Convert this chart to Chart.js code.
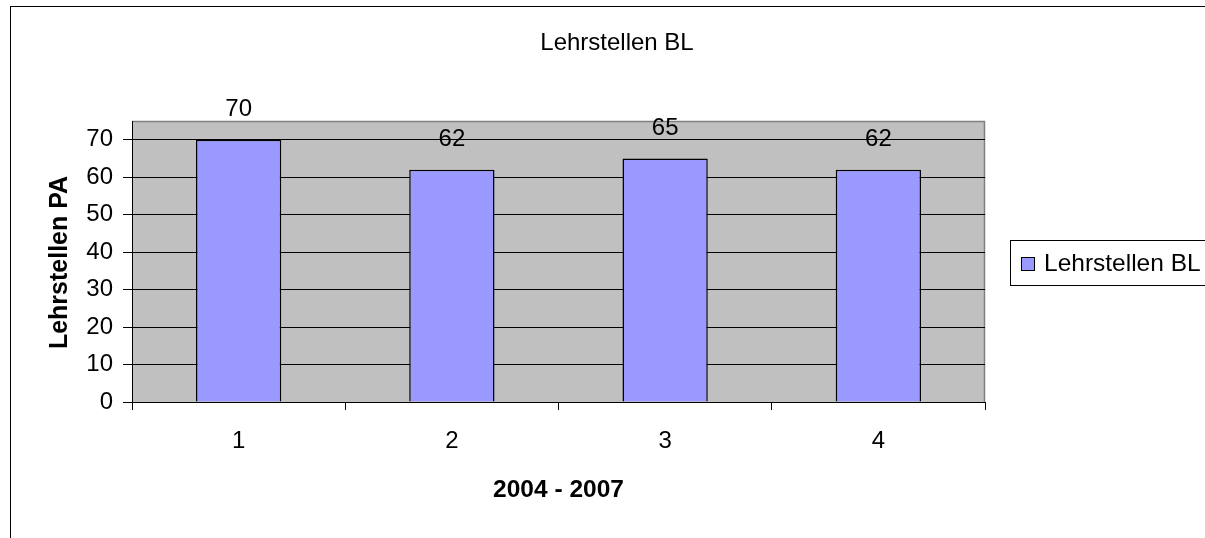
<!DOCTYPE html>
<html><head><meta charset="utf-8">
<script src="https://cdn.jsdelivr.net/npm/chart.js@4/dist/chart.umd.min.js"></script>
<style>html,body{margin:0;padding:0;background:#fff;overflow:hidden}canvas{display:block}</style>
</head><body>
<canvas id="c" width="1205" height="538"></canvas>
<script>
// ---- data ----
const chartTitle = 'Lehrstellen BL';
const categories = ['1', '2', '3', '4'];
const seriesName = 'Lehrstellen BL';
const seriesValues = [70, 62, 65, 62];
const yTickValues = [0, 10, 20, 30, 40, 50, 60, 70];
const xAxisTitle = '2004 - 2007';
const yAxisTitle = 'Lehrstellen PA';

const FONT = '"Liberation Sans", Arial, sans-serif';
const BAR_COLOR = '#9999FF';

const decor = {
  id: 'decor',
  beforeDraw(chart) {
    const ctx = chart.ctx, a = chart.chartArea;
    ctx.save();
    ctx.fillStyle = '#fff';
    ctx.fillRect(0, 0, chart.width, chart.height);
    // outer chart border
    ctx.strokeStyle = '#000';
    ctx.lineWidth = 1;
    ctx.strokeRect(10.5, 6.5, 1400, 800);
    // plot area
    ctx.fillStyle = '#C0C0C0';
    ctx.fillRect(a.left, a.top, a.right - a.left, a.bottom - a.top);
    ctx.strokeStyle = '#808080';
    ctx.lineWidth = 1.5;
    ctx.beginPath();
    ctx.moveTo(a.left, a.top + 0.5);
    ctx.lineTo(a.right - 0.5, a.top + 0.5);
    ctx.lineTo(a.right - 0.5, a.bottom);
    ctx.stroke();
    ctx.restore();
  },
  afterDraw(chart) {
    const ctx = chart.ctx, a = chart.chartArea;
    ctx.save();
    ctx.fillStyle = '#000';
    // title
    ctx.font = '24px ' + FONT;
    ctx.textAlign = 'center';
    ctx.textBaseline = 'alphabetic';
    ctx.fillText(chartTitle, 617, 50);
    // data labels
    const meta = chart.getDatasetMeta(0);
    ctx.textBaseline = 'middle';
    meta.data.forEach((bar, i) => {
      ctx.fillText(String(seriesValues[i]), bar.x, bar.y - 30);
    });
    // x axis title
    ctx.font = 'bold 24.5px ' + FONT;
    ctx.textBaseline = 'alphabetic';
    ctx.fillText(xAxisTitle, (a.left + a.right) / 2, 497);
    // y axis title
    ctx.font = 'bold 25px ' + FONT;
    ctx.save();
    ctx.translate(66.5, (a.top + a.bottom) / 2 + 1);
    ctx.rotate(-Math.PI / 2);
    ctx.fillText(yAxisTitle, 0, 0);
    ctx.restore();
    // legend
    ctx.fillStyle = '#fff';
    ctx.fillRect(1010, 240, 300, 45);
    ctx.strokeStyle = '#000';
    ctx.lineWidth = 1;
    ctx.strokeRect(1010.5, 240.5, 300, 45);
    ctx.fillStyle = BAR_COLOR;
    ctx.fillRect(1021, 257, 13, 13);
    ctx.strokeRect(1021.5, 257.5, 13, 13);
    ctx.fillStyle = '#000';
    ctx.font = '24.5px ' + FONT;
    ctx.textAlign = 'left';
    ctx.textBaseline = 'middle';
    ctx.fillText(seriesName, 1044, 264);
    ctx.restore();
  }
};

new Chart(document.getElementById('c'), {
  type: 'bar',
  data: {
    labels: categories,
    datasets: [{
      label: seriesName,
      data: seriesValues,
      backgroundColor: BAR_COLOR,
      borderColor: '#000',
      borderWidth: 1.5,
      categoryPercentage: 0.4,
      barPercentage: 1
    }]
  },
  options: {
    responsive: false,
    animation: false,
    devicePixelRatio: 1,
    layout: { padding: { left: 10, top: 121, right: 220, bottom: 0 } },
    plugins: { legend: { display: false }, title: { display: false }, tooltip: { enabled: false } },
    scales: {
      x: {
        type: 'category',
        offset: true,
        grid: { offset: true, drawOnChartArea: false, drawTicks: true, tickLength: 8, color: '#000', lineWidth: 1 },
        border: { display: true, color: '#000', width: 1 },
        ticks: { color: '#000', font: { family: FONT, size: 24 }, padding: 17, maxRotation: 0 },
        afterFit(s) { s.height = 136; }
      },
      y: {
        min: 0, max: 75,
        afterBuildTicks(s) { s.ticks = yTickValues.map(v => ({ value: v })); },
        grid: { color: '#000', lineWidth: 1, drawTicks: true, tickLength: 9 },
        border: { display: true, color: '#000', width: 1 },
        ticks: { color: '#000', font: { family: FONT, size: 24 }, padding: 10 },
        afterFit(s) { s.width = 122; }
      }
    }
  },
  plugins: [decor]
});
</script>
</body></html>
